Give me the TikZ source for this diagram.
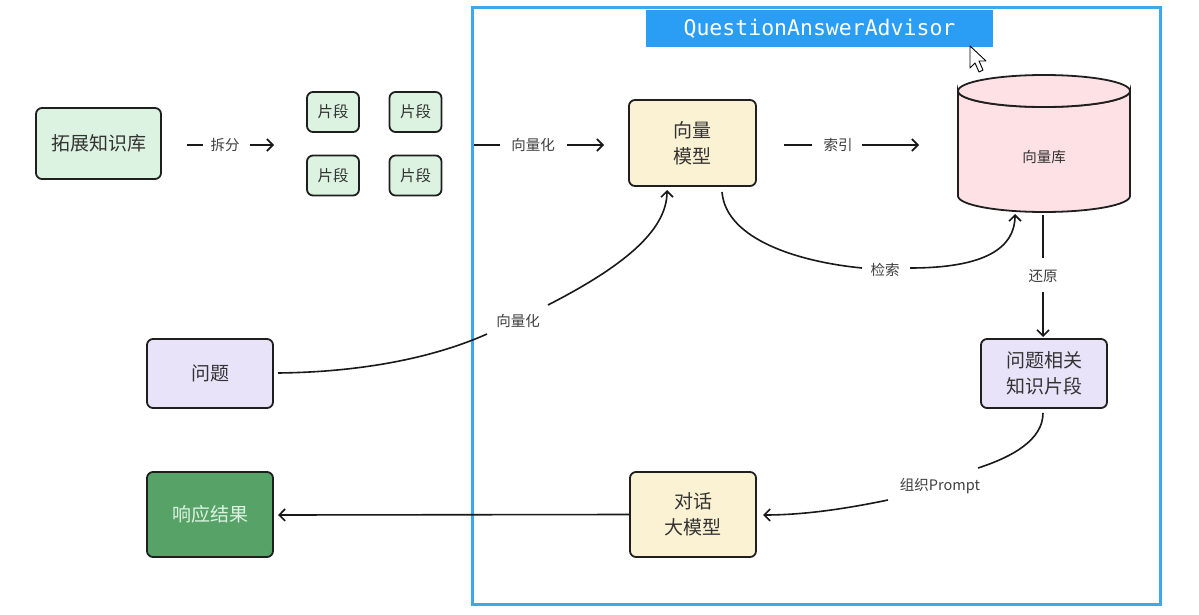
\documentclass[tikz,border=0pt]{standalone}
\usepackage{fontspec}
\newfontfamily\cjk{Noto Sans CJK SC}
\newfontfamily\monof{DejaVu Sans Mono}
\usetikzlibrary{arrows.meta}
\definecolor{frameblue}{HTML}{3BA9EE}
\definecolor{titleblue}{HTML}{2A9DF4}
\definecolor{lgreen}{HTML}{DCF3E1}
\definecolor{lyellow}{HTML}{FBF1D3}
\definecolor{lpink}{HTML}{FDE1E4}
\definecolor{lpurple}{HTML}{E9E3FA}
\definecolor{dgreen}{HTML}{56A267}
\definecolor{dtext}{HTML}{333333}
\begin{document}
\begin{tikzpicture}[x=1pt,y=-1pt,
  box/.style={draw=black!88, line width=1.8pt, rounded corners=6pt, text=dtext,
    font=\cjk\fontsize{19}{26}\selectfont, align=center, inner sep=0pt},
  small/.style={box, font=\cjk\fontsize{15.5}{18}\selectfont},
  lbl/.style={font=\cjk\fontsize{14.5}{16}\selectfont, text=black!75, inner sep=0pt},
  conn/.style={line width=1.6pt, black!90},
  arr/.style={conn, -{Straight Barb[length=6pt,width=12pt,line width=1.6pt]}}]
\useasboundingbox (0,0) rectangle (1199,615);
\fill[white] (0,0) rectangle (1199,615);

% advisor frame
\draw[frameblue, line width=3pt] (472,8) rectangle (1160,604);
\node[fill=titleblue, minimum width=347pt, minimum height=37pt, inner sep=0pt,
  text=white, font=\monof\fontsize{21.5}{24}\selectfont] (title) at (819.5,28.5) {QuestionAnswerAdvisor};

% cursor
\draw[fill=white, line width=0.9pt, line join=round] (970,46) -- (970,68) -- (975,63) -- (979,72) -- (983,70) -- (979,61) -- (986,61) -- cycle;

% nodes
\node[box, fill=lgreen, minimum width=125pt, minimum height=71pt] (kb) at (98.5,143.5) {拓展知识库};
\node[small, fill=lgreen, minimum width=52pt, minimum height=40pt] (p1) at (333,112) {片段};
\node[small, fill=lgreen, minimum width=52pt, minimum height=40pt] (p2) at (415.5,112) {片段};
\node[small, fill=lgreen, minimum width=52pt, minimum height=40pt] (p3) at (333,175.5) {片段};
\node[small, fill=lgreen, minimum width=52pt, minimum height=40pt] (p4) at (415.5,175.5) {片段};
\node[box, fill=lyellow, minimum width=127pt, minimum height=86pt] (vm) at (692.5,143) {向量\\模型};
\node[box, fill=lpurple, minimum width=126pt, minimum height=69pt] (qk) at (1044,373.5) {问题相关\\知识片段};
\node[box, fill=lpurple, minimum width=126pt, minimum height=69pt] (q) at (210,373.5) {问题};
\node[box, fill=lyellow, minimum width=126pt, minimum height=85pt] (llm) at (693,514.5) {对话\\大模型};
\node[box, fill=dgreen, text=lgreen, minimum width=126pt, minimum height=85pt] (res) at (210,514.5) {响应结果};

% cylinder
\draw[line width=1.8pt, black!88, fill=lpink] (958,91) -- (958,196) arc[start angle=180, end angle=360, x radius=86, y radius=-16] -- (1130,91) arc[start angle=0, end angle=-180, x radius=86, y radius=-16] -- cycle;
\draw[line width=1.8pt, black!88, fill=lpink] (1044,91) ellipse[x radius=86, y radius=16];
\node[inner sep=0pt, minimum width=174pt, minimum height=137pt] (db) at (1044,143.5) {};
\node[lbl, font=\cjk\fontsize{14.5}{16}\selectfont, text=dtext] (dbt) at (1044,157) {向量库};

% labels
\node[lbl] (l1) at (225,145) {拆分};
\node[lbl] (l2) at (533,145) {向量化};
\node[lbl] (l3) at (838,145) {索引};
\node[lbl] (l4) at (885,270) {检索};
\node[lbl] (l5) at (1043,276) {还原};
\node[lbl] (l6) at (518,321) {向量化};
\node[lbl] (l7) at (940,486) {组织Prompt};

% coordinates
\coordinate (a1) at (187,145); \coordinate (a1e) at (203,145);
\coordinate (a2) at (250,145); \coordinate (a2e) at (274,145);
\coordinate (b1) at (474,145); \coordinate (b1e) at (500,145);
\coordinate (b2) at (567,145); \coordinate (b2e) at (604,145);
\coordinate (c1) at (784,145); \coordinate (c1e) at (812,145);
\coordinate (c2) at (862,145); \coordinate (c2e) at (919,145);
\coordinate (d1) at (722,192); \coordinate (d1e) at (862,268);
\coordinate (d2) at (910,268); \coordinate (d2e) at (1015,214);
\coordinate (e1) at (1043,215); \coordinate (e1e) at (1043,258);
\coordinate (e2) at (1043,292); \coordinate (e2e) at (1043,337);
\coordinate (f1) at (278,373); \coordinate (f1e) at (487,334);
\coordinate (f2) at (548,305); \coordinate (f2e) at (667,190);
\coordinate (g1) at (1043,413); \coordinate (g1e) at (978,468);
\coordinate (g2) at (888,500); \coordinate (g2e) at (763,515);
\coordinate (h2e) at (278,515);

% connectors
\draw[conn] (a1) -- (a1e);
\draw[arr] (a2) -- (a2e);
\draw[conn] (b1) -- (b1e);
\draw[arr] (b2) -- (b2e);
\draw[conn] (c1) -- (c1e);
\draw[arr] (c2) -- (c2e);
\draw[conn] (d1) .. controls (726,240) and (800,262) .. (d1e);
\draw[arr] (d2) .. controls (985,268) and (1015,248) .. (d2e);
\draw[conn] (e1) -- (e1e);
\draw[arr] (e2) -- (e2e);
\draw[conn] (f1) .. controls (370,372) and (440,355) .. (f1e);
\draw[arr] (f2) .. controls (620,268) and (667,232) .. (f2e);
\draw[conn] (g1) .. controls (1043,440) and (1012,457) .. (g1e);
\draw[arr] (g2) .. controls (840,510) and (800,515) .. (g2e);
\draw[arr] (llm.west) -- (h2e);
\end{tikzpicture}
\end{document}
